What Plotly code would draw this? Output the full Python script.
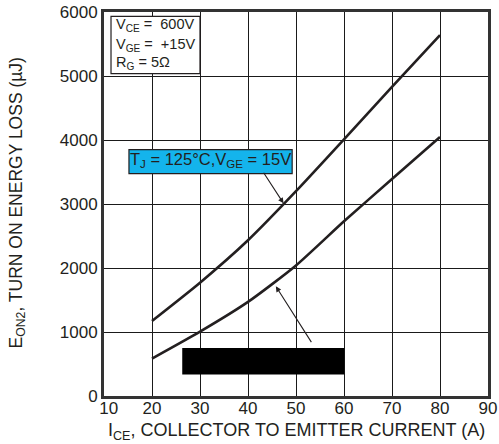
import plotly.graph_objects as go

# Data
ice = [20, 30, 40, 50, 60, 70, 80]
eon_upper = [1172, 1770, 2433, 3200, 4010, 4830, 5640]
eon_lower = [584, 1005, 1470, 2040, 2730, 3390, 4047]

x_ticks = [10, 20, 30, 40, 50, 60, 70, 80, 90]
x_tick_labels = ["\u00a0\u00a010", "20", "30", "40", "50", "60", "70", "80", "90"]
y_ticks = [0, 1000, 2000, 3000, 4000, 5000, 6000]
y_tick_labels = ["0", "1000", "2000", "3000", "4000", "5000", "6000"]

FONT = "Liberation Sans, Arial, sans-serif"
INK = "#231f20"

fig = go.Figure()
for ys in (eon_upper, eon_lower):
    fig.add_trace(go.Scatter(x=ice, y=ys, mode="lines",
                             line=dict(color=INK, width=2.6, shape="spline", smoothing=0.6),
                             showlegend=False, hoverinfo="skip"))

shapes = [
    dict(type="rect", xref="x", yref="y", x0=11.46, x1=30.0, y0=5037, y1=5933,
         line=dict(color=INK, width=1.2), fillcolor="white", layer="above"),
    dict(type="rect", xref="x", yref="y", x0=15.2, x1=49.2, y0=3475, y1=3850,
         line=dict(color=INK, width=1.2), fillcolor="#14b4ec", layer="above"),
    dict(type="rect", xref="x", yref="y", x0=26.3, x1=60.06, y0=334, y1=750,
         line=dict(width=0), fillcolor="black", layer="above"),
]

annotations = [
    dict(x=12.1, y=5790, xref="x", yref="y", xanchor="left", yanchor="middle", showarrow=False,
         text="V<sub>CE</sub> =  600V", font=dict(family=FONT, size=14.5, color=INK)),
    dict(x=12.1, y=5490, xref="x", yref="y", xanchor="left", yanchor="middle", showarrow=False,
         text="V<sub>GE</sub> =  +15V", font=dict(family=FONT, size=14.5, color=INK)),
    dict(x=12.1, y=5200, xref="x", yref="y", xanchor="left", yanchor="middle", showarrow=False,
         text="R<sub>G</sub> = 5Ω", font=dict(family=FONT, size=14.5, color=INK)),
    dict(x=32.2, y=3680, xref="x", yref="y", xanchor="center", yanchor="middle", showarrow=False,
         text="T<sub>J</sub> = 125°C,V<sub>GE</sub> = 15V", font=dict(family=FONT, size=16.5, color=INK)),
    dict(x=47.4, y=3011, ax=43.06, ay=3511, xref="x", yref="y", axref="x", ayref="y",
         text="", showarrow=True, arrowhead=2, arrowsize=1, arrowwidth=1.1, arrowcolor=INK),
    dict(x=45.8, y=1714, ax=53.4, ay=819, xref="x", yref="y", axref="x", ayref="y",
         text="", showarrow=True, arrowhead=2, arrowsize=1, arrowwidth=1.1, arrowcolor=INK),
    # axis titles
    dict(x=0.5026, y=-0.092, xref="paper", yref="paper", xanchor="center", yanchor="middle",
         showarrow=False, text="I<sub>CE</sub>, COLLECTOR TO EMITTER CURRENT (A)",
         font=dict(family=FONT, size=18, color=INK)),
    dict(x=-0.2266, y=0.504, xref="paper", yref="paper", xanchor="center", yanchor="middle",
         showarrow=False, textangle=-90, text="E<sub>ON2</sub>, TURN ON ENERGY LOSS (µJ)",
         font=dict(family=FONT, size=17.5, color=INK)),
]

fig.update_layout(
    width=499, height=444,
    margin=dict(l=104, r=11, t=12, b=48, autoexpand=False),
    paper_bgcolor="white", plot_bgcolor="white",
    font=dict(family=FONT, color=INK),
    shapes=shapes, annotations=annotations,
)
axis_common = dict(showgrid=True, gridcolor="#1a1a1a", gridwidth=1.2,
                   showline=True, mirror=True, linecolor="#333333", linewidth=3,
                   ticks="", zeroline=False, automargin=False,
                   tickfont=dict(size=17, family=FONT, color=INK))
fig.update_xaxes(range=[10, 90], tickvals=x_ticks, ticktext=x_tick_labels,
                 ticklabelstandoff=-5, **axis_common)
fig.update_yaxes(range=[0, 6000], tickvals=y_ticks, ticktext=y_tick_labels, **axis_common)

fig.write_html("out.html", config={"displayModeBar": False},
               post_script="document.body.style.margin='0';document.body.style.overflow='hidden';")
